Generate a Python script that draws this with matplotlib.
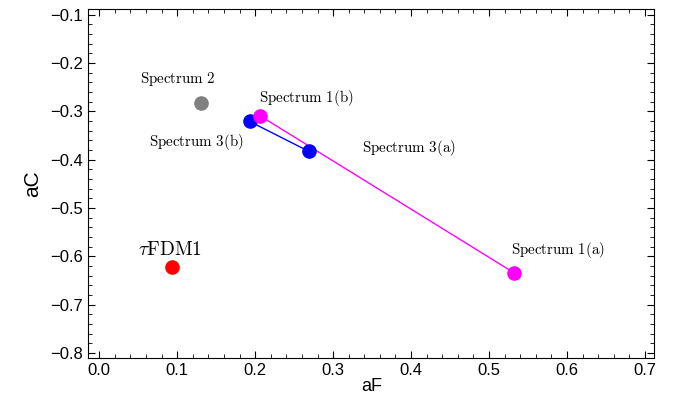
import matplotlib
matplotlib.use("Agg")
import matplotlib.pyplot as plt
from matplotlib.ticker import MultipleLocator

plt.rcParams['mathtext.fontset'] = 'cm'
plt.rcParams['font.family'] = ['Liberation Sans', 'DejaVu Sans']

# values
spec1_aF = [0.206, 0.532]
spec1_aC = [-0.309, -0.634]
spec3_aF = [0.193, 0.269]
spec3_aC = [-0.321, -0.383]
spec2_aF = 0.130
spec2_aC = -0.283
tfdm_aF = 0.093
tfdm_aC = -0.622

fig = plt.figure(figsize=(6.77, 3.96), dpi=100)
ax = fig.add_axes([0.1304, 0.0952, 0.8361, 0.8813])

ax.plot(spec3_aF, spec3_aC, '-', color='#0000ff', lw=1)
ax.plot(spec1_aF, spec1_aC, '-', color='#ff00ff', lw=1)
ax.plot(spec3_aF, spec3_aC, 'o', color='#0000ff', ms=9.5)
ax.plot(spec1_aF, spec1_aC, 'o', color='#ff00ff', ms=9.5)
ax.plot(spec2_aF, spec2_aC, 'o', color='#808080', ms=9.5)
ax.plot(tfdm_aF, tfdm_aC, 'o', color='#ff0000', ms=9.5)

lab = dict(fontsize=10.8, ha='center', va='center')
ax.text(0.101, -0.233, r'$\mathrm{Spectrum\ 2}$', **lab)
ax.text(0.266, -0.273, r'$\mathrm{Spectrum\ 1(b)}$', **lab)
ax.text(0.124, -0.364, r'$\mathrm{Spectrum\ 3(b)}$', **lab)
ax.text(0.397, -0.376, r'$\mathrm{Spectrum\ 3(a)}$', **lab)
ax.text(0.589, -0.586, r'$\mathrm{Spectrum\ 1(a)}$', **lab)
ax.text(0.091, -0.586, r'$\tau\mathrm{FDM1}$', fontsize=14, ha='center', va='center')

ax.set_xlim(-0.014, 0.712)
ax.set_ylim(-0.811, -0.089)
ax.xaxis.set_major_locator(MultipleLocator(0.1))
ax.xaxis.set_minor_locator(MultipleLocator(0.02))
ax.yaxis.set_major_locator(MultipleLocator(0.1))
ax.yaxis.set_minor_locator(MultipleLocator(0.02))
ax.tick_params(which='both', direction='in', top=True, right=True, labelsize=12)
ax.tick_params(which='major', length=5)
ax.tick_params(which='minor', length=3)
ax.set_xlabel('aF', fontsize=13, labelpad=0)
ax.set_ylabel('aC', fontsize=15, labelpad=6)

fig.savefig('out.png', dpi=100)
